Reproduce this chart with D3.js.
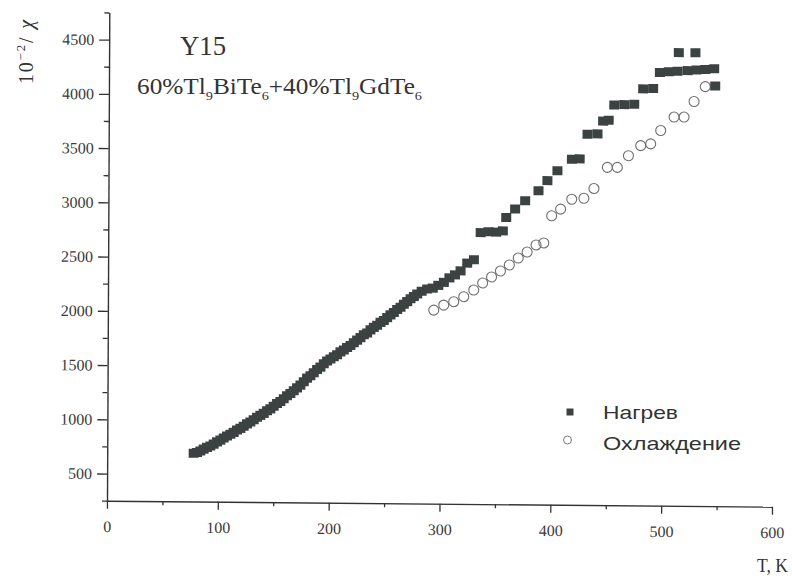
<!DOCTYPE html>
<html>
<head>
<meta charset="utf-8">
<script src="https://cdn.jsdelivr.net/npm/d3@7"></script>
<style>
  body { margin: 0; background: #fff; }
  svg { display: block; background: #fff; }
</style>
</head>
<body>
<svg id="chart" width="792" height="579"></svg>
<script>
// Heating run: temperature (K) and 10^-2/χ
const heatT = [78,81,84,87,90,93,96,99,102,105,108,111,114,117,120,123,126,129,132,135,
  138,141,144,147,150,153,156,159,162,165,168,171,174,177,180,183,186,189,192,195,
  198,201,204,207,210,213,216,219,222,225,228,231,234,237,240,243,246,249,252,255,
  258,261,264,267,270,273,276,279,283,288,293,298,303,308,313,318,324,330,336,343,
  350,356,359,367,376,388,396,405,418,425,432,441,446,451,456,465,474,482,491,497,
  505,513,522,530,538,546,514,529,547];
const heatV = [695,702,716,733,750,763,780,801,818,838,856,872,890,912,928,948,970,988,1008,1031,
  1049,1068,1092,1110,1134,1160,1178,1204,1232,1254,1279,1306,1331,1362,1396,1418,1446,1476,1499,1531,
  1556,1574,1596,1614,1641,1659,1682,1700,1726,1751,1774,1801,1818,1846,1870,1889,1916,1934,1961,1986,
  2008,2036,2058,2086,2110,2136,2158,2181,2206,2228,2236,2262,2290,2332,2360,2398,2470,2502,2752,2760,
  2758,2770,2894,2972,3050,3143,3237,3329,3436,3440,3668,3672,3790,3798,3940,3944,3948,4090,4094,4243,
  4250,4256,4262,4268,4274,4281,4427,4428,4123];

// Cooling run
const coolT = [294,303,312,321,330,338,346,354,362,370,378,386,393,400,408,418,429,438,450,459,
  469,480,489,498,510,519,528,538];
const coolV = [2034,2081,2113,2160,2222,2288,2344,2400,2456,2521,2577,2643,2662,2913,2975,3067,3077,3168,3364,3365,
  3473,3567,3584,3708,3833,3834,3978,4116];

// Axis ticks
const xMajor = [0,100,200,300,400,500,600];
const xMinor = [50,150,250,350,450,550];
const yMajor = [500,1000,1500,2000,2500,3000,3500,4000,4500];
const yMinor = [250,750,1250,1750,2250,2750,3250,3750,4250,4750];

const legendLabels = ["Нагрев", "Охлаждение"];

const serif = "'Liberation Serif', 'Times New Roman', serif";
const sans = "'Liberation Sans', Arial, sans-serif";
const ink = "#333";

const svg = d3.select("#chart");

const x = d3.scaleLinear().domain([0, 600]).range([107, 772]);
const y = d3.scaleLinear().domain([250, 4750]).range([500.7, 12.5]);

// The printed frame is slightly sheared; apply it to the whole plot area
const sx = -0.0047, sy = 0.009, x0 = 107, y0 = 500.7;
const plot = svg.append("g")
  .attr("transform", `matrix(1,${sy},${sx},1,${-sx * y0},${-sy * x0})`);

function styleAxis(g) {
  g.selectAll("path.domain").attr("stroke", ink).attr("stroke-width", 1.4);
  g.selectAll(".tick line").attr("stroke", ink).attr("stroke-width", 1.3);
  g.selectAll(".tick text")
    .attr("font-family", serif).attr("font-size", 16).attr("fill", "#3a3a3a");
}

// X axis
plot.append("g")
  .attr("transform", `translate(0,${y(250)})`)
  .call(d3.axisBottom(x).tickValues(xMinor).tickSize(4).tickFormat(""))
  .call(g => g.select(".domain").remove())
  .call(styleAxis);
plot.append("g")
  .attr("transform", `translate(0,${y(250)})`)
  .call(d3.axisBottom(x).tickValues(xMajor).tickSize(8).tickSizeOuter(0)
    .tickPadding(12).tickFormat(d3.format("d")))
  .call(styleAxis);

// Y axis
plot.append("g")
  .attr("transform", `translate(${x(0)},0)`)
  .call(d3.axisLeft(y).tickValues(yMinor).tickSize(5).tickFormat(""))
  .call(g => g.select(".domain").remove())
  .call(styleAxis);
plot.append("g")
  .attr("transform", `translate(${x(0)},0)`)
  .call(d3.axisLeft(y).tickValues(yMajor).tickSize(10).tickSizeOuter(0)
    .tickPadding(5).tickFormat(d3.format("d")))
  .call(styleAxis);

// Cooling points (open circles)
plot.append("g").selectAll("circle")
  .data(coolT.map((t, i) => [t, coolV[i]]))
  .join("circle")
  .attr("cx", d => x(d[0]))
  .attr("cy", d => y(d[1]))
  .attr("r", 5)
  .attr("fill", "none")
  .attr("stroke", "#6e6e6e")
  .attr("stroke-width", 1.1);

// Heating points (filled squares)
plot.append("g").selectAll("rect")
  .data(heatT.map((t, i) => [t, heatV[i]]))
  .join("rect")
  .attr("x", d => x(d[0]) - 5)
  .attr("y", d => y(d[1]) - 4.5)
  .attr("width", 10)
  .attr("height", 9)
  .attr("fill", "#3c4242");

// Axis titles
const yl = svg.append("text")
  .attr("transform", "translate(33,84) rotate(-90)")
  .attr("font-family", serif).attr("font-size", 20).attr("fill", ink)
  .attr("textLength", 64).attr("lengthAdjust", "spacing");
yl.append("tspan").text("10");
yl.append("tspan").attr("dy", -8).attr("font-size", 13).text("−2");
yl.append("tspan").attr("dy", 8).text("/ ");
yl.append("tspan").attr("font-style", "italic").text("χ");

svg.append("text")
  .attr("x", 757).attr("y", 572)
  .attr("font-family", serif).attr("font-size", 19).attr("fill", ink)
  .attr("textLength", 31).attr("lengthAdjust", "spacingAndGlyphs")
  .text("T, K");

// Sample name and composition
svg.append("text")
  .attr("x", 180).attr("y", 55)
  .attr("font-family", serif).attr("font-size", 27).attr("fill", ink)
  .attr("textLength", 46).attr("lengthAdjust", "spacingAndGlyphs")
  .text("Y15");

const comp = svg.append("text")
  .attr("x", 137).attr("y", 94)
  .attr("font-family", serif).attr("font-size", 23).attr("fill", ink)
  .attr("textLength", 285).attr("lengthAdjust", "spacingAndGlyphs");
const parts = [["60%Tl", false], ["9", true], ["BiTe", false], ["6", true],
               ["+40%Tl", false], ["9", true], ["GdTe", false], ["6", true]];
parts.forEach(([t, sub], i) => {
  comp.append("tspan")
    .attr("dy", sub ? 6 : (i === 0 ? 0 : -6))
    .attr("font-size", sub ? 13 : 23)
    .text(t);
});

// Legend
const legend = svg.append("g");
legend.append("rect").attr("x", 566.5).attr("y", 408.5).attr("width", 7).attr("height", 7)
  .attr("fill", "#3c4242");
legend.append("circle").attr("cx", 567.5).attr("cy", 440).attr("r", 4)
  .attr("fill", "none").attr("stroke", "#7a7a7a").attr("stroke-width", 1);
legend.selectAll("text")
  .data(legendLabels)
  .join("text")
  .attr("x", 603)
  .attr("y", (d, i) => [419, 450][i])
  .attr("font-family", sans).attr("font-size", 19).attr("fill", ink)
  .attr("textLength", (d, i) => [75, 138][i])
  .attr("lengthAdjust", "spacingAndGlyphs")
  .text(d => d);
</script>
</body>
</html>
